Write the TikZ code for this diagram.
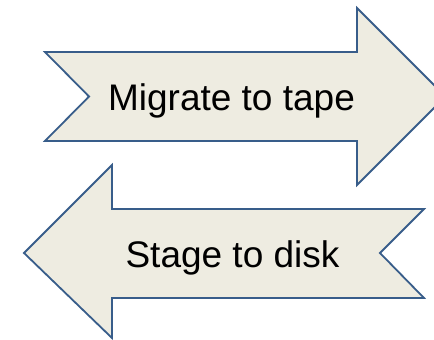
\documentclass[tikz,border=0pt]{standalone}
\usepackage{fontspec}
\setmainfont{Liberation Sans}
\definecolor{shapefill}{HTML}{EEECE1}
\definecolor{shapeline}{HTML}{385D8A}
\begin{document}
\begin{tikzpicture}[x=1pt,y=-1pt,
  arrowshape/.style={fill=shapefill,draw=shapeline,line width=1.8pt,line join=miter},
  label/.style={anchor=base,inner sep=0pt,font=\fontsize{37}{41}\selectfont}]
\useasboundingbox (0,0) rectangle (434,340);
\clip (0,0) rectangle (434,340);
% right-pointing arrow with notched tail
\draw[arrowshape] (45,52) -- (357,52) -- (357,8) -- (445.5,96.5) -- (357,185)
  -- (357,141) -- (45,141) -- (89,96.5) -- cycle;
% left-pointing arrow with notched tail
\draw[arrowshape] (424,209) -- (112,209) -- (112,165) -- (24,253) -- (112,338)
  -- (112,298) -- (424,298) -- (380,253) -- cycle;
\node[label] (migrate) at (231.5,110) {Migrate to tape};
\node[label] (stage) at (232.5,267) {Stage to disk};
\end{tikzpicture}
\end{document}
